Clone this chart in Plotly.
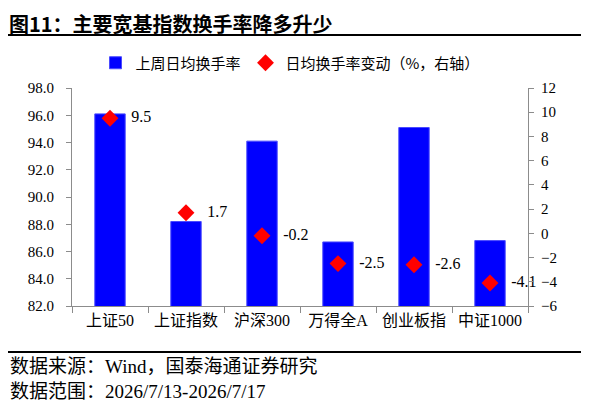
import plotly.graph_objects as go

categories = ['上证50', '上证指数', '沪深300', '万得全A', '创业板指', '中证1000']
turnover_week = [96.1, 88.2, 94.1, 86.7, 95.1, 86.8]
turnover_change = [9.5, 1.7, -0.2, -2.5, -2.6, -4.1]
change_labels = ['9.5', '1.7', '-0.2', '-2.5', '-2.6', '-4.1']

# the page body adds an 8px margin, so work in screen pixels and shift back
OFF = 8
W, H = 589 - OFF, 407 - OFF
L, R, T, B = 72, 528, 88, 306  # plot area, screen pixels

FONT = 'Liberation Serif, Times New Roman, Noto Sans CJK SC, serif'
CJK = 'Noto Sans CJK SC, Liberation Serif, serif'
AXIS_GREY = '#8c8c8c'


def px(x):
    return (x - L) / (R - L)


def py(y):
    return (B - y) / (B - T)


fig = go.Figure()
fig.add_trace(go.Bar(
    x=categories, y=turnover_week, name='上周日均换手率',
    marker=dict(color='#0000ff', line=dict(width=1, color='#4a4aff')),
    yaxis='y',
))
fig.add_trace(go.Scatter(
    x=categories, y=turnover_change, name='日均换手率变动（%，右轴）',
    mode='markers+text', yaxis='y2', cliponaxis=False,
    marker=dict(symbol='diamond', size=13, color='#ff0000'),
    text=['   ' + t for t in change_labels], textposition='middle right',
    textfont=dict(size=16, color='black', family=FONT),
))

fig.update_layout(
    width=W, height=H,
    margin=dict(l=L - OFF, r=W - (R - OFF), t=T - OFF, b=H - (B - OFF), autoexpand=False),
    plot_bgcolor='white', paper_bgcolor='white',
    font=dict(family=FONT, size=15, color='black'),
    bargap=0.6,
    showlegend=True,
    legend=dict(orientation='h', x=px(290), xanchor='center', y=py(63), yanchor='middle',
                font=dict(size=15, family=CJK), itemwidth=30,
                traceorder='normal', bgcolor='rgba(0,0,0,0)'),
    xaxis=dict(
        type='category', showline=True, linecolor=AXIS_GREY, linewidth=1,
        ticks='outside', tickson='boundaries', ticklen=6, tickcolor=AXIS_GREY,
        showgrid=False, tickfont=dict(size=16, family=FONT),
    ),
    yaxis=dict(
        range=[82, 98], dtick=2, tickformat='.1f', showline=True, linecolor=AXIS_GREY,
        ticks='outside', ticklen=5, tickcolor=AXIS_GREY, showgrid=False, zeroline=False,
        tickfont=dict(size=15, family=FONT), ticklabelstandoff=9,
    ),
    yaxis2=dict(
        range=[-6, 12], dtick=2, overlaying='y', side='right', showline=True,
        linecolor=AXIS_GREY, ticks='outside', ticklen=5, tickcolor=AXIS_GREY,
        showgrid=False, zeroline=False, tickfont=dict(size=15, family=FONT),
        ticklabelstandoff=4,
    ),
)

fig.add_annotation(
    text='<b>图11：主要宽基指数换手率降多升少</b>', xref='paper', yref='paper',
    x=px(8), y=py(8), xanchor='left', yanchor='top', showarrow=False, borderpad=0,
    font=dict(size=20, family=CJK, color='black'),
)
fig.add_shape(type='line', xref='paper', yref='paper', x0=px(8), x1=px(589),
              y0=py(35), y1=py(35), line=dict(color='black', width=2))
fig.add_shape(type='line', xref='paper', yref='paper', x0=px(8), x1=px(589),
              y0=py(352), y1=py(352), line=dict(color='black', width=2))
fig.add_annotation(
    text='数据来源：Wind，国泰海通证券研究', xref='paper', yref='paper',
    x=px(8), y=py(366), xanchor='left', yanchor='middle', showarrow=False,
    font=dict(size=19, family=FONT),
)
fig.add_annotation(
    text='数据范围：2026/7/13-2026/7/17', xref='paper', yref='paper',
    x=px(8), y=py(391), xanchor='left', yanchor='middle', showarrow=False,
    font=dict(size=19, family=FONT),
)

fig.write_html('out.html')
